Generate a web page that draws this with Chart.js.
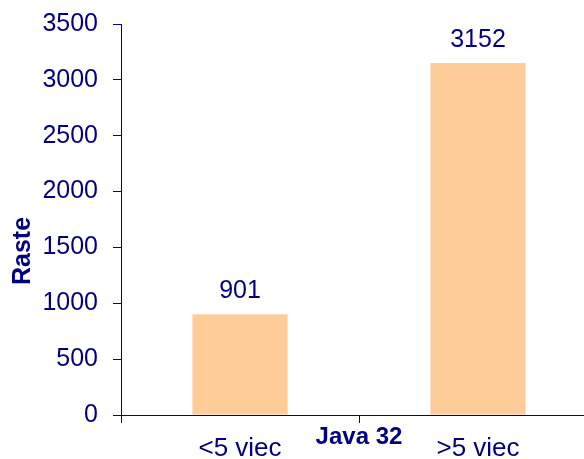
<!DOCTYPE html>
<html>
<head>
<meta charset="utf-8">
<script src="https://cdn.jsdelivr.net/npm/chart.js@4/dist/chart.umd.min.js"></script>
<style>
    html, body { margin: 0; padding: 0; overflow: hidden; background: #fff; }
    #wrap { width: 600px; height: 459px; }
</style>
</head>
<body>
<div id="wrap"><canvas id="chart-bars" width="600" height="459"></canvas></div>
<script>
var categories = ["<5 viec", ">5 viec"];
var rasteValues = [901, 3152];
var yTicks = [0, 500, 1000, 1500, 2000, 2500, 3000, 3500];
var yTitle = "Raste";
var xTitle = "Java 32";

var navy = "#000080";
var fontFamily = "'Liberation Sans', Arial, sans-serif";

// values above the bars + the y title (sits a bit below the middle in the original)
var extraText = {
    id: "extraText",
    afterDatasetsDraw: function (chart) {
        var ctx = chart.ctx;
        var meta = chart.getDatasetMeta(0);
        ctx.save();
        ctx.fillStyle = navy;
        ctx.font = "25px " + fontFamily;
        ctx.textAlign = "center";
        ctx.textBaseline = "alphabetic";
        meta.data.forEach(function (bar, i) {
            ctx.fillText(String(rasteValues[i]), bar.x, bar.y - 16);
        });

        ctx.translate(23, 251);
        ctx.rotate(-Math.PI / 2);
        ctx.font = "bold 25px " + fontFamily;
        ctx.textBaseline = "middle";
        ctx.fillText(yTitle, 0, 0);
        ctx.restore();
    }
};

var ctx = document.getElementById("chart-bars").getContext("2d");
new Chart(ctx, {
    type: "bar",
    data: {
        labels: categories,
        datasets: [{
            label: yTitle,
            data: rasteValues,
            backgroundColor: "#FFCC99",
            borderWidth: 0,
            categoryPercentage: 1,
            barPercentage: 0.4
        }]
    },
    options: {
        responsive: false,
        animation: false,
        layout: { padding: { top: 24, right: 3, left: 0, bottom: 0 } },
        plugins: {
            legend: { display: false },
            tooltip: { enabled: false }
        },
        scales: {
            y: {
                min: 0,
                max: 3500,
                afterBuildTicks: function (scale) {
                    scale.ticks = yTicks.map(function (v) { return { value: v }; });
                },
                afterFit: function (scale) {
                    scale.width = 121;
                    scale.paddingTop = 0; // let layout padding decide the top
                    scale.paddingBottom = 0;
                },
                border: { color: navy, width: 1 },
                grid: {
                    drawOnChartArea: false,
                    drawTicks: true,
                    tickLength: 8,
                    color: navy
                },
                ticks: {
                    color: navy,
                    padding: 15,
                    callback: function (v) { return String(v); }, // no thousands comma
                    font: { size: 25, family: fontFamily }
                }
            },
            x: {
                afterFit: function (scale) { scale.height = 44; },
                border: { color: navy, width: 1 },
                grid: {
                    offset: true,
                    drawOnChartArea: false,
                    drawTicks: true,
                    tickLength: 8,
                    color: navy
                },
                ticks: {
                    color: navy,
                    padding: 10,
                    autoSkip: false,
                    maxRotation: 0,
                    font: { size: 26, family: fontFamily }
                },
                title: {
                    display: true,
                    text: xTitle,
                    color: navy,
                    padding: { top: 0, bottom: 7 },
                    font: { size: 24, weight: "bold", family: fontFamily }
                }
            }
        }
    },
    plugins: [extraText]
});
</script>
</body>
</html>
